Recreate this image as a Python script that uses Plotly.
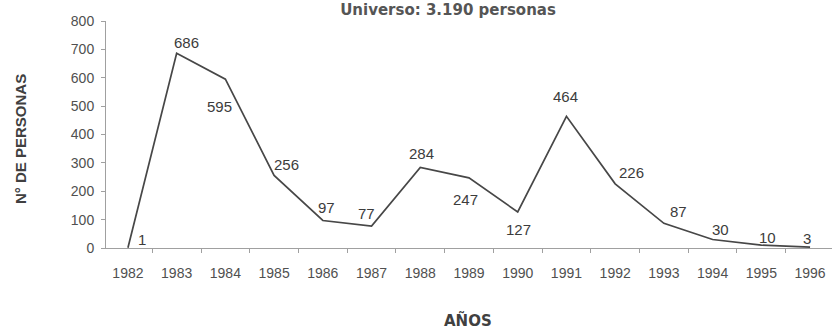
import plotly.graph_objects as go

years = ["1982", "1983", "1984", "1985", "1986", "1987", "1988", "1989",
         "1990", "1991", "1992", "1993", "1994", "1995", "1996"]
personas = [1, 686, 595, 256, 97, 77, 284, 247, 127, 464, 226, 87, 30, 10, 3]

# pixel offsets of each value label relative to its point (style only)
label_dx = [14, 10, -6, 12, 4, -5, 1, -4, 1, -1, 16, 15, 8, 6, -3]
label_dy = [-8, -11, 27, -11, -13, -13, -14, 22, 18, -20, -11, -12, -10, -8, -9]

title_text = "Universo: 3.190 personas"
y_title = "N° DE PERSONAS"
x_title = "AÑOS"

fig = go.Figure()
fig.add_trace(go.Scatter(
    x=years, y=personas, mode="lines",
    line=dict(color="#474747", width=1.7),
    cliponaxis=False, showlegend=False, hoverinfo="x+y",
))

annotations = []
for i, (v, dx, dy) in enumerate(zip(personas, label_dx, label_dy)):
    annotations.append(dict(
        x=i, y=v, xref="x", yref="y", text=str(v), showarrow=False,
        xanchor="center", yanchor="middle", xshift=dx, yshift=-dy,
        font=dict(family="Liberation Sans, Arial", size=15, color="#3c3c3c"),
    ))

annotations += [
    dict(text=y_title, xref="paper", yref="paper", x=(20 - 106) / 726, y=(248 - 139) / 227,
         textangle=-90, showarrow=False, xanchor="center", yanchor="middle",
         font=dict(family="Liberation Sans, Arial", size=15, color="#404040", weight="bold")),
    dict(text=x_title, xref="paper", yref="paper", x=(468 - 106) / 726, y=(248 - 320) / 227,
         showarrow=False, xanchor="center", yanchor="middle",
         font=dict(family="DejaVu Sans", size=15, color="#404040", weight="bold")),
]

fig.update_layout(
    width=832, height=329,
    margin=dict(l=106, r=0, t=21, b=81),
    paper_bgcolor="white", plot_bgcolor="white",
    font=dict(family="Liberation Sans, Arial", color="#505050"),
    title=dict(text=title_text, x=448 / 832, xanchor="center", y=0.985, yanchor="top",
               yref="container",
               font=dict(family="DejaVu Sans", size=15, color="#555555", weight="bold")),
    xaxis=dict(type="category", range=[-0.45, 14.45], showgrid=False,
               showline=True, linecolor="#a0a0a0", linewidth=1,
               ticks="outside", ticklen=4, tickcolor="#a0a0a0", tickson="boundaries",
               ticklabelstandoff=12,
               tickfont=dict(size=14, color="#505050"), zeroline=False),
    yaxis=dict(range=[0, 800], dtick=100, showgrid=False, zeroline=False,
               showline=True, linecolor="#a0a0a0", linewidth=1,
               ticks="outside", ticklen=4, tickcolor="#a0a0a0",
               ticklabelstandoff=4,
               tickfont=dict(size=14, color="#505050")),
    annotations=annotations,
)

fig.write_html("out.html")
